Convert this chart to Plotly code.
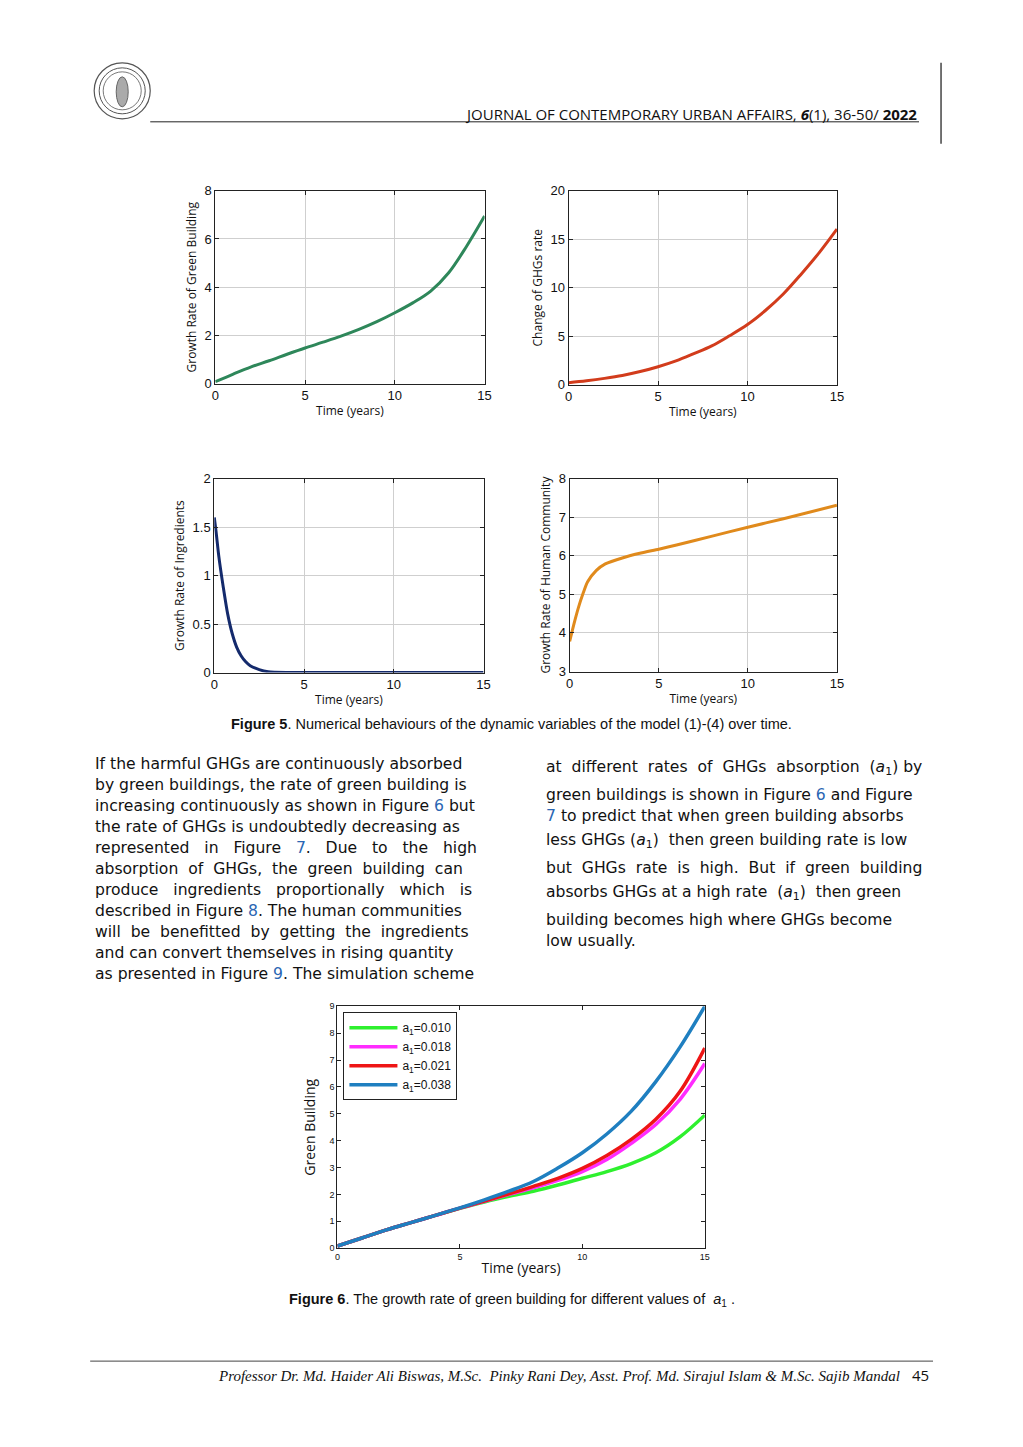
import plotly.graph_objects as go

# figure placed inside the page (8px body margin); small empirical correction so marks land where the reference has them
OFF = 8
W, H = 1000, 1420
SX, OX = 0.988, 4.0
SY, OY = 0.990, 6.2
def px(x): return ((x - OX) / SX - OFF) / W
def py(y): return 1 - ((y - OY) / SY - OFF) / H

# ---------------- data ----------------
t_year = list(range(16))
green_building = [0.08, 0.40, 0.70, 0.95, 1.22, 1.48, 1.72, 1.97, 2.25, 2.57, 2.94, 3.35, 3.84, 4.60, 5.70, 6.95]
ghgs_rate = [0.20, 0.40, 0.65, 0.95, 1.35, 1.85, 2.45, 3.20, 4.00, 5.05, 6.20, 7.65, 9.35, 11.40, 13.60, 16.05]

t_ingr = [0, 0.1, 0.25, 0.5, 0.75, 1, 1.25, 1.5, 1.75, 2, 2.5, 3, 4, 5, 7, 10, 12, 15]
ingredients = [1.6, 1.45, 1.2, 0.88, 0.6, 0.4, 0.26, 0.17, 0.11, 0.07, 0.03, 0.008, 0, 0, 0, 0, 0, 0]

t_human = [0, 0.25, 0.5, 0.75, 1, 1.5, 2, 3, 4, 5, 6, 8, 10, 12, 15]
human = [3.78, 4.25, 4.67, 5.02, 5.32, 5.62, 5.79, 5.95, 6.07, 6.17, 6.28, 6.51, 6.74, 6.96, 7.31]

a1_labels = ["a<sub>1</sub>=0.010", "a<sub>1</sub>=0.018", "a<sub>1</sub>=0.021", "a<sub>1</sub>=0.038"]
gb_a010 = [0.08, 0.38, 0.68, 0.95, 1.22, 1.48, 1.72, 1.93, 2.12, 2.35, 2.60, 2.85, 3.15, 3.55, 4.15, 4.95]
gb_a018 = [0.08, 0.38, 0.68, 0.95, 1.22, 1.49, 1.74, 2.00, 2.25, 2.52, 2.85, 3.30, 3.90, 4.60, 5.55, 6.87]
gb_a021 = [0.08, 0.38, 0.68, 0.95, 1.22, 1.49, 1.75, 2.02, 2.30, 2.60, 2.97, 3.45, 4.05, 4.80, 5.85, 7.45]
gb_a038 = [0.08, 0.38, 0.68, 0.95, 1.22, 1.50, 1.80, 2.12, 2.48, 2.98, 3.55, 4.25, 5.10, 6.20, 7.50, 9.00]
fig6_colors = ["#2ef02e", "#ff2cff", "#ee1515", "#1f7fc0"]

fig = go.Figure()

TICKF = dict(family="Liberation Sans, Arial", size=13, color="#111")
LABF = dict(family="Open Sans, Noto Sans", size=12, color="#111")

def add_axes(n, xd, yd, yrange, ydtick, ytitle, grid=True, tickfont=TICKF, labfont=LABF, ystand=5, xstand=4):
    xa = "xaxis" if n == 1 else f"xaxis{n}"
    ya = "yaxis" if n == 1 else f"yaxis{n}"
    common = dict(showline=True, linecolor="#222", linewidth=1, mirror="ticks",
                  ticks="inside", ticklen=4, tickcolor="#222", zeroline=False,
                  showgrid=grid, gridcolor="#cfcfcf", gridwidth=1, tickfont=tickfont)
    fig.layout[xa] = dict(domain=[px(xd[0]), px(xd[1])], anchor=("y" if n == 1 else f"y{n}"),
                          range=[0, 15], dtick=5, title=dict(text="Time (years)", font=labfont, standoff=xstand), **common)
    fig.layout[ya] = dict(domain=[py(yd[1]), py(yd[0])], anchor=("x" if n == 1 else f"x{n}"),
                          range=yrange, dtick=ydtick, title=dict(text=ytitle, font=labfont, standoff=ystand), **common)

add_axes(1, (215, 484), (190, 383), [0, 8], 2, "Growth Rate of Green Building")
add_axes(2, (568, 836), (190, 384), [0, 20], 5, "Change of GHGs rate")
add_axes(3, (214, 483), (478, 672), [0, 2], 0.5, "Growth Rate of Ingredients")
add_axes(4, (569, 836), (478, 671), [3, 8], 1, "Growth Rate of Human Community")
add_axes(5, (337, 704), (1006, 1248), [0, 9], 1, "Green Building", grid=False,
         tickfont=dict(family="Liberation Sans, Arial", size=9, color="#111"),
         labfont=dict(family="Open Sans, Noto Sans", size=14, color="#111"), ystand=10, xstand=2)

fig.add_trace(go.Scatter(x=t_year, y=green_building, mode="lines", line=dict(color="#2e875a", width=3, shape="spline"),
                         xaxis="x", yaxis="y", showlegend=False))
fig.add_trace(go.Scatter(x=t_year, y=ghgs_rate, mode="lines", line=dict(color="#d23c1c", width=3, shape="spline"),
                         xaxis="x2", yaxis="y2", showlegend=False))
fig.add_trace(go.Scatter(x=t_ingr, y=ingredients, mode="lines", line=dict(color="#142a6c", width=3, shape="spline", smoothing=0.6),
                         xaxis="x3", yaxis="y3", showlegend=False))
fig.add_trace(go.Scatter(x=t_human, y=human, mode="lines", line=dict(color="#e08a1c", width=3, shape="spline", smoothing=0.6),
                         xaxis="x4", yaxis="y4", showlegend=False))
for lab, ys, col in zip(a1_labels, [gb_a010, gb_a018, gb_a021, gb_a038], fig6_colors):
    fig.add_trace(go.Scatter(x=t_year, y=ys, mode="lines", name=lab, line=dict(color=col, width=3.5, shape="spline"),
                             xaxis="x5", yaxis="y5"))

fig.update_layout(
    width=W, height=H, margin=dict(l=0, r=0, t=0, b=0),
    paper_bgcolor="white", plot_bgcolor="white",
    legend=dict(x=px(343), y=py(1012), xanchor="left", yanchor="top",
                bgcolor="white", bordercolor="#222", borderwidth=1,
                font=dict(family="Liberation Sans, Arial", size=12, color="#111"),
                itemwidth=48, tracegroupgap=0),
)

ann = []
shapes = []

# header
shapes.append(dict(type="line", xref="paper", yref="paper", x0=px(150), x1=px(918), y0=py(121), y1=py(121),
                   line=dict(color="#222", width=1)))
shapes.append(dict(type="line", xref="paper", yref="paper", x0=px(940), x1=px(940), y0=py(62), y1=py(143),
                   line=dict(color="#444", width=1.5)))
for r, wdt in [(28, 1.2), (23, 1), (19, 0.8)]:
    shapes.append(dict(type="circle", xref="paper", yref="paper", x0=px(122 - r), x1=px(122 + r),
                       y0=py(90 + r), y1=py(90 - r), line=dict(color="#555", width=wdt)))
shapes.append(dict(type="circle", xref="paper", yref="paper", x0=px(116), x1=px(128),
                   y0=py(106), y1=py(76), line=dict(color="#666", width=1), fillcolor="#aaa"))
ann.append(dict(text="JOURNAL OF CONTEMPORARY URBAN AFFAIRS, <b><i>6</i></b>(1), 36-50/ <b>2022</b>",
                x=px(918), y=py(113), xanchor="right", yanchor="middle",
                font=dict(family="Open Sans", size=15, color="#111")))

# captions
ann.append(dict(text="<b>Figure 5</b>. Numerical behaviours of the dynamic variables of the model (1)-(4) over time.",
                x=px(511), y=py(724), xanchor="center", yanchor="middle",
                font=dict(family="Liberation Sans, Arial", size=14.5, color="#111")))
ann.append(dict(text="<b>Figure 6</b>. The growth rate of green building for different values of  <i>a</i><sub>1</sub> .",
                x=px(511), y=py(1300), xanchor="center", yanchor="middle",
                font=dict(family="Liberation Sans, Arial", size=14.5, color="#111")))

BL = "<span style='color:#2a66b3'>%s</span>"
A1 = "(<i>a</i><sub>1</sub>)"
left_lines = [
    "If the harmful GHGs are continuously absorbed",
    "by green buildings, the rate of green building is",
    "increasing continuously as shown in Figure " + BL % "6" + " but",
    "the rate of GHGs is undoubtedly decreasing as",
    "represented   in   Figure   " + BL % "7" + ".   Due   to   the   high",
    "absorption  of  GHGs,  the  green  building  can",
    "produce   ingredients   proportionally   which   is",
    "described in Figure " + BL % "8" + ". The human communities",
    "will  be  benefitted  by  getting  the  ingredients",
    "and can convert themselves in rising quantity",
    "as presented in Figure " + BL % "9" + ". The simulation scheme",
]
left_y = [764, 785, 806, 827, 848, 869, 890, 911, 932, 953, 974]
BODY = dict(family="DejaVu Sans", size=15.6, color="#111")
for s, y in zip(left_lines, left_y):
    ann.append(dict(text=s, x=px(93), y=py(y), xanchor="left", yanchor="middle", font=BODY))

right_lines = [
    "at  different  rates  of  GHGs  absorption  " + A1 + " by",
    "green buildings is shown in Figure " + BL % "6" + " and Figure",
    BL % "7" + " to predict that when green building absorbs",
    "less GHGs " + A1 + "  then green building rate is low",
    "but  GHGs  rate  is  high.  But  if  green  building",
    "absorbs GHGs at a high rate  " + A1 + "  then green",
    "building becomes high where GHGs become",
    "low usually.",
]
right_y = [768, 795, 816, 841, 868, 893, 920, 941]
for s, y in zip(right_lines, right_y):
    ann.append(dict(text=s, x=px(543), y=py(y), xanchor="left", yanchor="middle", font=BODY))

# footer
shapes.append(dict(type="line", xref="paper", yref="paper", x0=px(90), x1=px(932), y0=py(1361), y1=py(1361),
                   line=dict(color="#444", width=1)))
ann.append(dict(text="<i>Professor Dr. Md. Haider Ali Biswas, M.Sc.  Pinky Rani Dey, Asst. Prof. Md. Sirajul Islam &amp; M.Sc. Sajib Mandal</i>",
                x=px(901), y=py(1376), xanchor="right", yanchor="middle",
                font=dict(family="Liberation Serif, Times New Roman", size=15, color="#111")))
ann.append(dict(text="45", x=px(930), y=py(1375), xanchor="right", yanchor="middle",
                font=dict(family="Open Sans", size=15, color="#111")))

for a in ann:
    a.update(xref="paper", yref="paper", showarrow=False)
fig.update_layout(annotations=ann, shapes=shapes)

fig.write_html("out.html")
